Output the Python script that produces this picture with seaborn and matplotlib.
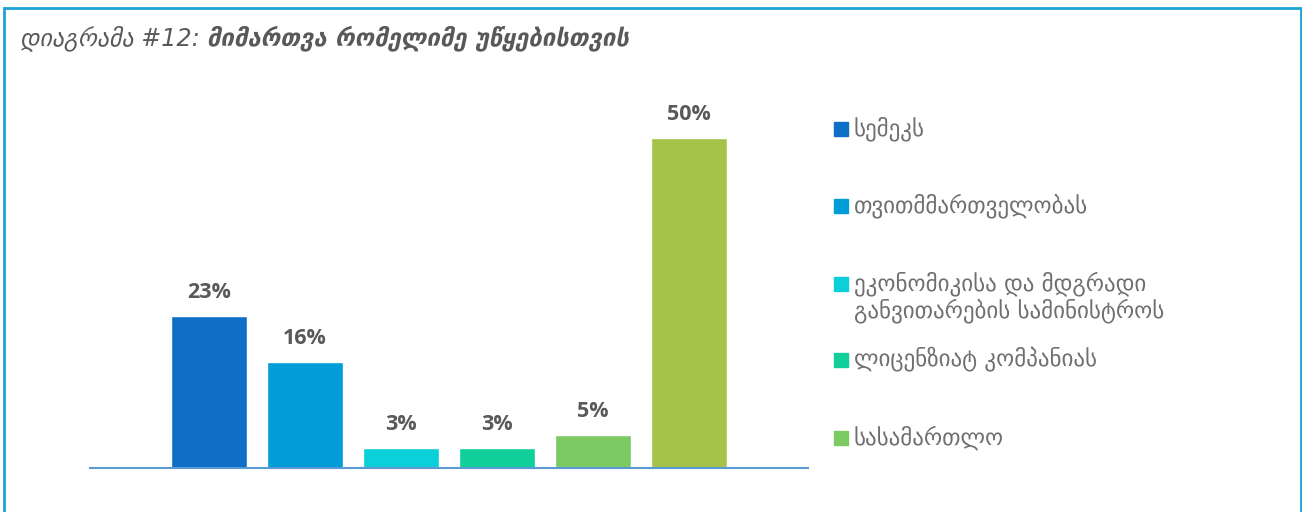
import matplotlib
matplotlib.use("Agg")
import matplotlib.pyplot as plt
import seaborn as sns
import pandas as pd
from matplotlib.patches import Rectangle

sns.set_theme(style="white")
plt.rcParams['font.family'] = ['DejaVu Sans']

legend_labels = ["სემეკს", "თვითმმართველობას",
                 "ეკონომიკისა და მდგრადი\nგანვითარების სამინისტროს",
                 "ლიცენზიატ კომპანიას", "სასამართლო"]
bar_names = ["სემეკს", "თვითმმართველობას",
             "ეკონომიკისა და მდგრადი განვითარების სამინისტროს",
             "ლიცენზიატ კომპანიას", "ლიცენზიატ კომპანიას (2)", "სასამართლო"]
values = [23, 16, 3, 3, 5, 50]
labels = ["23%", "16%", "3%", "3%", "5%", "50%"]
colors = ["#0F6FC6", "#009DD9", "#0BD0D9", "#10CF9B", "#7CCA62", "#A5C249"]
legend_colors = ["#0F6FC6", "#009DD9", "#0BD0D9", "#10CF9B", "#7CCA62"]
title_a = "დიაგრამა #12: "
title_b = "მიმართვა რომელიმე უწყებისთვის"

W, H = 1302, 512
fig = plt.figure(figsize=(W / 100, H / 100), dpi=100)
ax = fig.add_axes([90 / W, (H - 468) / H, (808 - 90) / W, (468 - 100) / H])

df = pd.DataFrame({"name": bar_names, "value": values})
sns.barplot(data=df, x="name", y="value", hue="name", palette=colors,
            width=0.79, legend=False, ax=ax, saturation=1)
ax.set_xlim(-1.24, 6.24)
ax.set_ylim(0, 368 / 6.6)
for s in ["top", "right", "left"]:
    ax.spines[s].set_visible(False)
ax.spines["bottom"].set_color("#5B9BD5")
ax.spines["bottom"].set_linewidth(1.5)
ax.set_xticks([])
ax.set_yticks([])
ax.set_xlabel("")
ax.set_ylabel("")

for i, (v, lab) in enumerate(zip(values, labels)):
    ax.annotate(lab, (i, v), xytext=(0, 17), textcoords="offset points",
                ha="center", va="center", fontsize=15.5, fontweight="bold",
                color="#595959", family="Open Sans")

# legend, evenly spaced markers
leg_y = [129, 206, 284, 360, 438]
for lab, col, y in zip(legend_labels, legend_colors, leg_y):
    fig.patches.append(Rectangle((834 / W, 1 - (y + 7) / H), 14 / W, 14 / H,
                                 transform=fig.transFigure, color=col))
    for k, line in enumerate(lab.split("\n")):
        fig.text(854 / W, 1 - (y + 27 * k) / H, line, ha="left", va="center",
                 fontsize=16.6, color="#6F6F6F")

# title
t1 = fig.text(20 / W, 1 - 45 / H, title_a, ha="left", va="baseline",
              fontsize=17.2, style="italic", color="#595959")
fig.canvas.draw()
bb = t1.get_window_extent()
fig.text(bb.x1 / W, 1 - 45 / H, title_b, ha="left", va="baseline",
         fontsize=17.2, style="italic", fontweight="bold", color="#595959")

# border
fig.patches.append(Rectangle((3.5 / W, -0.1), (1300.5 - 3.5) / W, 1.1 - 7.5 / H,
                             transform=fig.transFigure, fill=False,
                             edgecolor="#1BA3D6", linewidth=2))

fig.savefig("out.png", dpi=100)
